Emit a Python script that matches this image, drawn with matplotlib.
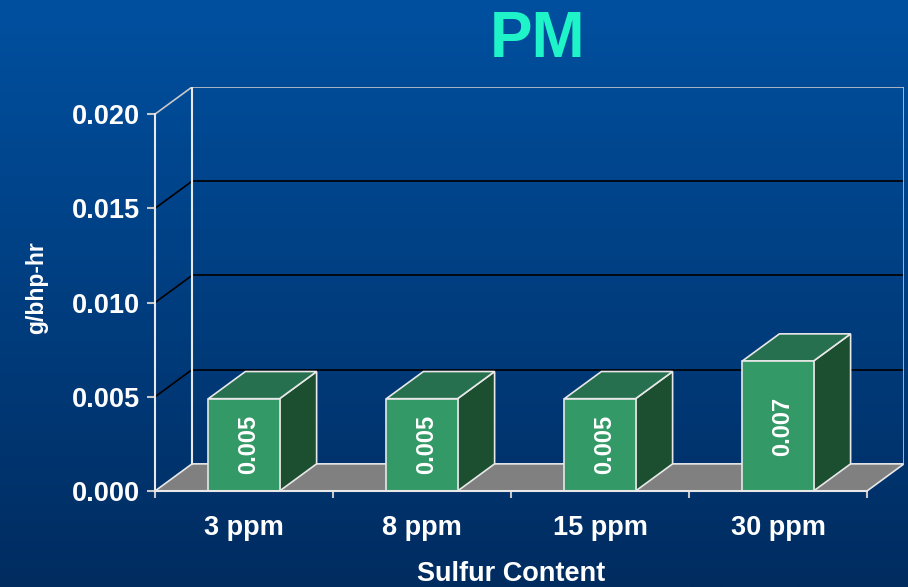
import matplotlib
matplotlib.use("Agg")
import matplotlib.pyplot as plt
import numpy as np
from matplotlib.patches import Polygon, Rectangle
from matplotlib.colors import LinearSegmentedColormap
from matplotlib.transforms import offset_copy

plt.rcParams['font.family'] = ['Liberation Sans', 'DejaVu Sans']
plt.rcParams['font.weight'] = 'bold'

# ---- data ----
categories = ["3 ppm", "8 ppm", "15 ppm", "30 ppm"]
pm_values = [0.0049, 0.0049, 0.0049, 0.0069]
y_ticks = [0.000, 0.005, 0.010, 0.015, 0.020]
y_tick_labels = ["0.000", "0.005", "0.010", "0.015", "0.020"]
title = "PM"
x_label = "Sulfur Content"
y_label = "g/bhp-hr"

# ---- style ----
W, H, DPI = 908, 587, 100
DX = 0.208        # depth offset in category units
DY = 0.00144      # depth offset in value units
BAR_W = 0.4
YMAX = 0.020
FRONT = '#339966'
TOP = '#267050'
SIDE = '#1C4F30'
EDGE = '#E8E8E8'
FLOOR = '#808080'

fig = plt.figure(figsize=(W / DPI, H / DPI), dpi=DPI)

# background gradient
bg = fig.add_axes([0, 0, 1, 1], zorder=-10)
cmap = LinearSegmentedColormap.from_list('bg', ['#002C60', '#0050A0'])
grad = np.linspace(0, 1, 256).reshape(-1, 1)
bg.imshow(grad, aspect='auto', cmap=cmap, origin='lower', extent=[0, 1, 0, 1])
bg.axis('off')

ax = fig.add_axes([155 / W, (H - 491) / H, (904 - 155) / W, (491 - 87) / H])
ax.set_facecolor('none')
n = len(categories)
ax.set_xlim(0, n + DX)
ax.set_ylim(0, YMAX + DY)

# floor
ax.add_patch(Polygon([(0, 0), (n, 0), (n + DX, DY), (DX, DY)], closed=True,
                     facecolor=FLOOR, edgecolor=EDGE, lw=1.2, zorder=1))

# back wall gridlines and left-wall diagonals
for t in y_ticks[1:]:
    col = 'black' if t < YMAX else '#C8C8C8'
    ax.plot([DX, n + DX], [t + DY, t + DY], color=col, lw=1.2, zorder=1)
    ax.plot([0, DX], [t, t + DY], color=col, lw=1.2, zorder=1)
ax.plot([DX, DX], [DY, YMAX + DY], color=EDGE, lw=1.5, zorder=1)
ax.plot([n + DX, n + DX], [DY, YMAX + DY], color='#C8C8C8', lw=1.2, zorder=1)

# bars
lab_tr = offset_copy(ax.transData, fig=fig, x=5, y=0, units='dots')
for i, v in enumerate(pm_values):
    x0 = i + 0.5 - BAR_W / 2
    x1 = x0 + BAR_W
    ax.add_patch(Polygon([(x1, 0), (x1 + DX, DY), (x1 + DX, v + DY), (x1, v)],
                         closed=True, facecolor=SIDE, edgecolor=EDGE, lw=1.2, zorder=3))
    ax.add_patch(Polygon([(x0, v), (x1, v), (x1 + DX, v + DY), (x0 + DX, v + DY)],
                         closed=True, facecolor=TOP, edgecolor=EDGE, lw=1.2, zorder=3))
    ax.add_patch(Rectangle((x0, 0), BAR_W, v, facecolor=FRONT, edgecolor=EDGE,
                           lw=1.2, zorder=4))
    ax.text(i + 0.5, v / 2, f"{v:.3f}", rotation=90, ha='center', va='center',
            color='white', fontsize=17, fontweight='bold', zorder=5,
            transform=lab_tr)

# axes / spines
for s in ['top', 'right']:
    ax.spines[s].set_visible(False)
ax.spines['left'].set_bounds(0, YMAX)
ax.spines['bottom'].set_bounds(0, n)
for s in ['left', 'bottom']:
    ax.spines[s].set_color(EDGE)
    ax.spines[s].set_linewidth(1.5)
    ax.spines[s].set_zorder(6)

ax.set_yticks(y_ticks)
ax.set_yticklabels(y_tick_labels)
ax.tick_params(axis='y', length=6, width=1.5, color='#C8C8C8', pad=5,
               labelsize=19.5, labelcolor='white')

ax.set_xticks(np.arange(n + 1))
ax.set_xticklabels([])
ax.tick_params(axis='x', which='major', length=5, width=1.5, color='#C8C8C8')
ax.set_xticks(np.arange(n) + 0.5, minor=True)
ax.set_xticklabels(categories, minor=True)
ax.tick_params(axis='x', which='minor', length=0, pad=17, labelsize=19.5,
               labelcolor='white')
for lbl in ax.get_xticklabels(minor=True) + ax.get_yticklabels():
    lbl.set_fontweight('bold')

ax.set_xlabel(x_label, color='white', fontsize=19.5, fontweight='bold')
ax.xaxis.set_label_coords((511 - 155) / (904 - 155), -(581 - 491) / (491 - 87))
ax.xaxis.label.set_va('baseline')
ax.set_ylabel(y_label, color='white', fontsize=16.5, fontweight='bold', va='center')
ax.yaxis.set_label_coords((37 - 155) / (904 - 155), (491 - 288) / (491 - 87))

fig.text(538 / W, 1 - 57 / H, title, ha='center', va='baseline', fontsize=46,
         fontweight='bold', color='#1FF4C8')

fig.savefig('out.png', dpi=DPI)
